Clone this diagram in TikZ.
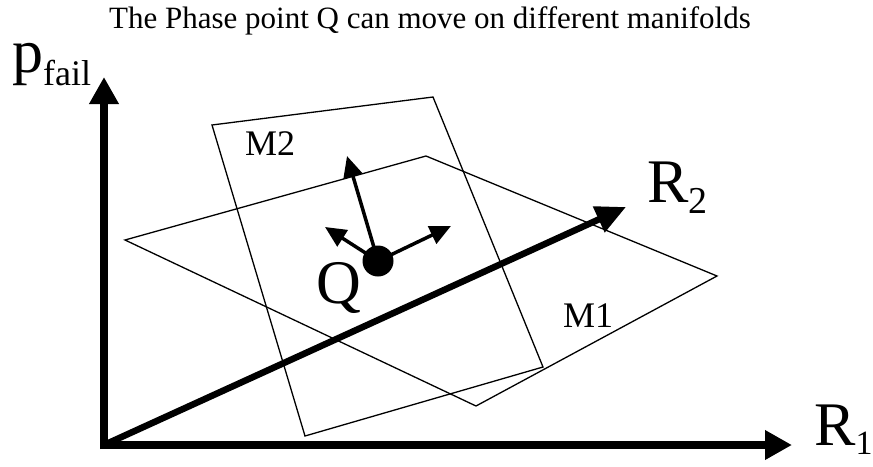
\documentclass[tikz,border=0pt]{standalone}
\usepackage{fontspec}
\setmainfont{Liberation Serif}
\usetikzlibrary{arrows.meta}
\begin{document}
\begin{tikzpicture}[x=1pt,y=-1pt,
  axis/.style={line width=8pt,-{Triangle[length=27pt,width=28pt]}},
  raxis/.style={line width=6.5pt,-{Triangle[length=30pt,width=27pt]}},
  qarrow/.style={line width=3.5pt,-{Triangle[length=21pt,width=19pt]}},
  manifold/.style={line width=1.3pt,line join=miter},
  biglabel/.style={inner sep=0pt,anchor=base west,font=\fontsize{62}{62}\selectfont},
  mlabel/.style={inner sep=0pt,anchor=base west,font=\fontsize{36}{36}\selectfont}]
\useasboundingbox (0,0) rectangle (873,466);
% title
\node[inner sep=0pt,anchor=base,font=\fontsize{31}{31}\selectfont] (title) at (430,28) {The Phase point Q can move on different manifolds};
% manifolds
\draw[manifold] (125,240) -- (426,156) -- (717,276) -- (476,406) -- cycle;
\draw[manifold] (212,125) -- (433,97) -- (543,367) -- (305,436) -- cycle;
\node[mlabel] (m1) at (563,327) {M1};
\node[mlabel] (m2) at (245,155) {M2};
% axes
\coordinate (O) at (104,445);
\coordinate (Obot) at (104,449);
\coordinate (Ytip) at (104,77);
\coordinate (Xtip) at (792,445);
\coordinate (Rtip) at (626,207);
\draw[axis] (Obot) -- (Ytip);
\draw[axis] (O) -- (Xtip);
\draw[raxis] (O) -- (Rtip);
% labels
\node[biglabel] (pf) at (12,72) {p\raisebox{-13pt}{\fontsize{36}{36}\selectfont fail}};
\node[biglabel] (r2) at (647,202) {R\raisebox{-11pt}{\fontsize{38}{38}\selectfont 2}};
\node[biglabel] (r1) at (814,445) {R\raisebox{-9pt}{\fontsize{34}{34}\selectfont 1}};
\node[biglabel] (q) at (316,303) {Q};
% phase point
\node[circle,fill,minimum size=31pt,inner sep=0pt] (dot) at (378,261) {};
\coordinate (up) at (347,156);
\coordinate (lf) at (325,227);
\coordinate (rt) at (451,226);
\draw[qarrow] (dot.center) -- (up);
\draw[qarrow] (dot.center) -- (lf);
\draw[qarrow] (dot.center) -- (rt);
\end{tikzpicture}
\end{document}
